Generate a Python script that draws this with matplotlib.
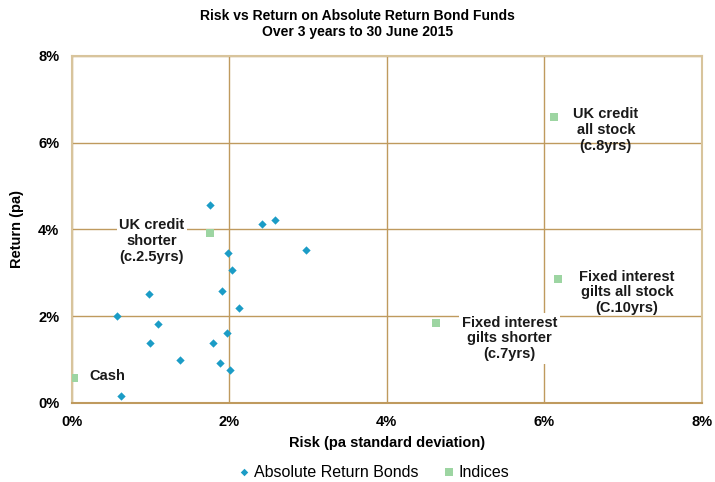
import matplotlib
matplotlib.use('Agg')
import matplotlib.pyplot as plt
from matplotlib.ticker import FuncFormatter

plt.rcParams['font.family'] = ['Liberation Sans', 'DejaVu Sans']

# ===== data (% pa) =====
fund_risk = [1.76, 2.42, 2.58, 2.97, 1.98, 2.04, 1.91, 0.98, 2.13, 0.57,
             1.09, 1.97, 1.00, 1.79, 1.38, 1.88, 2.01, 0.63]
fund_return = [4.55, 4.12, 4.21, 3.52, 3.45, 3.06, 2.58, 2.50, 2.18, 1.99,
               1.81, 1.60, 1.37, 1.38, 0.98, 0.92, 0.75, 0.16]

index_names = ['Cash', 'UK credit\nshorter\n(c.2.5yrs)', 'UK credit\nall stock\n(c.8yrs)',
               'Fixed interest\ngilts all stock\n(C.10yrs)', 'Fixed interest\ngilts shorter\n(c.7yrs)']
index_risk = [0.03, 1.76, 6.13, 6.18, 4.62]
index_return = [0.57, 3.92, 6.59, 2.85, 1.84]

C_FUND = '#1B9CC6'
C_INDEX = '#9DD5A2'
C_GRID = '#BF9A5E'
C_FRAME = '#D8C49C'

fig = plt.figure(figsize=(7.15, 4.82), dpi=100)
ax = fig.add_axes([0.1003, 0.1645, 0.8811, 0.7195])

ax.set_xlim(0, 8)
ax.set_ylim(0, 8)
ax.set_xticks([0, 2, 4, 6, 8])
ax.set_yticks([0, 2, 4, 6, 8])
fmt = FuncFormatter(lambda v, p: f'{v:.0f}%')
ax.xaxis.set_major_formatter(fmt)
ax.yaxis.set_major_formatter(fmt)
ax.tick_params(length=0, labelsize=10.5, pad=9)
for lab in ax.get_xticklabels() + ax.get_yticklabels():
    lab.set_fontweight('bold')

ax.grid(True, color=C_GRID, linewidth=1.0, zorder=0)
ax.set_axisbelow(True)
for s in ax.spines.values():
    s.set_color(C_FRAME)
    s.set_linewidth(1.5)
ax.spines['bottom'].set_color(C_GRID)

ax.scatter(fund_risk, fund_return, marker='D', s=18, color=C_FUND,
           label='Absolute Return Bonds', zorder=3, linewidths=0)
ax.scatter(index_risk, index_return, marker='s', s=34, color=C_INDEX,
           label='Indices', zorder=3, linewidths=0)

# data labels (offsets in points)
offsets = [(24, 1.7), (-42, -6), (37, -9.4), (49.4, -9.6), (53.5, -11)]
boxed = [False, True, False, False, True]
for name, x, y, off, bx in zip(index_names, index_risk, index_return, offsets, boxed):
    kw = {}
    if bx:
        kw['bbox'] = dict(facecolor='white', edgecolor='none', pad=2)
    ax.annotate(name, (x, y), xytext=off, textcoords='offset points',
                ha='center', va='center', fontsize=10.5, fontweight='bold',
                color='#1a1a1a', linespacing=1.15, zorder=4, **kw)

ax.set_xlabel('Risk (pa standard deviation)', fontsize=10.5, fontweight='bold', labelpad=5)
ax.set_ylabel('Return (pa)', fontsize=10.5, fontweight='bold', labelpad=10)

fig.suptitle('Risk vs Return on Absolute Return Bond Funds\nOver 3 years to 30 June 2015',
             y=0.982, fontsize=10, fontweight='bold')

fig.legend(loc='lower center', bbox_to_anchor=(0.52, -0.025), ncol=2, frameon=False,
           fontsize=11.5, handletextpad=0.0, handlelength=1.2, columnspacing=1.3,
           markerscale=0.9)

fig.savefig('out.png', dpi=100, facecolor='white')
